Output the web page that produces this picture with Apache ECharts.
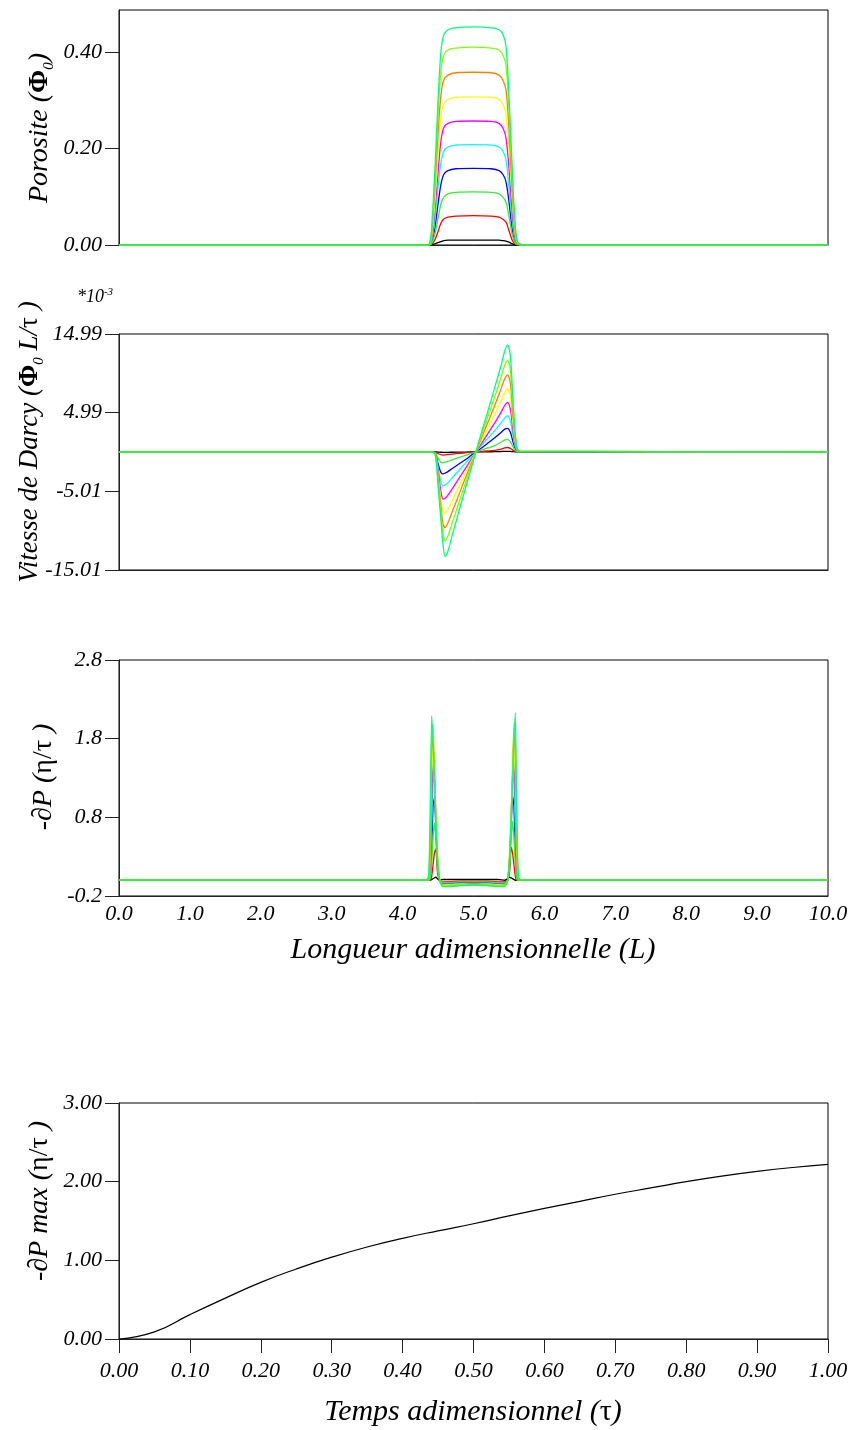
<!DOCTYPE html>
<html><head><meta charset="utf-8">
<script src="https://cdn.jsdelivr.net/npm/echarts@6/dist/echarts.min.js"></script>
<style>html,body{margin:0;padding:0;background:#fff}#c{width:853px;height:1430px}</style>
</head><body><div id="c"></div><script>
// ---------- DATA ----------
// curve colours (successive times), drawing order
const curveColors = ['#000000','#ff0000','#0000ff','#00ffff','#ff00ff','#ffff00','#ff8000','#80ff00','#00ff80','#33ee33'];
const curveNames  = ['black','red','blue','cyan','magenta','yellow','orange','yellowgreen','springgreen','green'];

// Panel 1 : porosity vs length
const xPoro = [0, 4.30, 4.38, 4.42, 4.46, 4.50, 4.54, 4.58, 4.64, 4.75, 5.00, 5.25, 5.36, 5.42, 5.46, 5.50, 5.54, 5.58, 5.62, 5.70, 10];
const poroBlack  = [0,0,0,0.001,0.003,0.005,0.007,0.009,0.010,0.010,0.010,0.010,0.010,0.009,0.008,0.006,0.003,0.001,0,0,0];
const poroRed    = [0,0,0,0.003,0.012,0.028,0.045,0.054,0.058,0.060,0.061,0.060,0.058,0.053,0.047,0.030,0.012,0.003,0,0,0];
const poroGreen  = [0,0,0,0.006,0.025,0.055,0.085,0.099,0.106,0.109,0.110,0.109,0.106,0.098,0.088,0.060,0.025,0.006,0.001,0,0];
const poroBlue   = [0,0,0,0.010,0.040,0.085,0.125,0.146,0.154,0.158,0.159,0.158,0.154,0.145,0.130,0.090,0.040,0.010,0.001,0,0];
const poroCyan   = [0,0,0,0.015,0.060,0.120,0.170,0.194,0.203,0.207,0.208,0.207,0.203,0.193,0.175,0.120,0.060,0.015,0.002,0,0];
const poroMag    = [0,0,0.001,0.020,0.080,0.150,0.215,0.243,0.252,0.256,0.257,0.256,0.252,0.241,0.220,0.160,0.080,0.020,0.003,0,0];
const poroYellow = [0,0,0.001,0.030,0.100,0.190,0.265,0.292,0.302,0.306,0.307,0.306,0.302,0.290,0.270,0.200,0.110,0.030,0.004,0,0];
const poroOrange = [0,0,0.002,0.040,0.130,0.230,0.310,0.342,0.352,0.357,0.358,0.357,0.352,0.340,0.320,0.240,0.130,0.040,0.005,0,0];
const poroYG     = [0,0,0.002,0.050,0.150,0.270,0.360,0.393,0.404,0.408,0.410,0.408,0.404,0.392,0.370,0.280,0.160,0.050,0.006,0,0];
const poroSG     = [0,0,0.003,0.060,0.170,0.300,0.400,0.435,0.446,0.450,0.452,0.450,0.446,0.435,0.410,0.310,0.180,0.060,0.008,0,0];

// Panel 2 : Darcy velocity (x 10^-3)
const xDarcy = [0, 4.40, 4.46, 4.50, 4.54, 4.57, 4.60, 4.64, 4.70, 4.80, 4.90, 5.00, 5.10, 5.20, 5.30, 5.38, 5.44, 5.48, 5.52, 5.56, 5.60, 5.65, 10];
const darcyBlack  = [0,0,0,-0.02,-0.04,-0.05,-0.05,-0.05,-0.04,-0.03,-0.02,0,0.01,0.02,0.03,0.05,0.07,0.08,0.06,0.03,0.01,0,0];
const darcyRed    = [0,0,0,-0.2,-0.35,-0.4,-0.38,-0.33,-0.27,-0.18,-0.1,-0.02,0.05,0.12,0.2,0.33,0.5,0.56,0.45,0.2,0.03,0,0];
const darcyGreen  = [0,0,-0.1,-0.8,-1.3,-1.35,-1.3,-1.2,-1.0,-0.7,-0.4,-0.1,0.2,0.5,0.8,1.2,1.5,1.6,1.3,0.6,0.1,0,0];
const darcyBlue   = [0,0,-0.1,-1.5,-2.6,-2.8,-2.7,-2.5,-2.1,-1.5,-0.9,-0.2,0.4,1.1,1.8,2.4,2.9,3.0,2.5,1.2,0.2,0,0];
const darcyCyan   = [0,0,-0.2,-2.0,-3.8,-4.3,-4.2,-3.9,-3.3,-2.3,-1.3,-0.4,0.7,1.7,2.7,3.6,4.3,4.6,3.9,1.9,0.4,0,0];
const darcyMag    = [0,0,-0.2,-2.5,-5.0,-6.0,-5.9,-5.5,-4.7,-3.3,-1.9,-0.5,0.9,2.3,3.7,4.9,5.9,6.3,5.4,2.6,0.5,0,0];
const darcyYellow = [0,0,-0.3,-3.0,-6.1,-7.6,-7.8,-7.3,-6.2,-4.3,-2.5,-0.6,1.2,3.0,4.8,6.3,7.5,8.0,7.0,3.4,0.7,0.1,0];
const darcyOrange = [0,0,-0.3,-3.4,-6.9,-9.1,-9.6,-9.0,-7.6,-5.3,-3.0,-0.8,1.5,3.7,5.9,7.8,9.3,9.8,8.7,4.3,0.9,0.1,0];
const darcyYG     = [0,0,-0.3,-3.8,-7.7,-10.4,-11.3,-10.7,-9.0,-6.3,-3.6,-0.9,1.8,4.4,7.0,9.2,11.0,11.6,10.4,5.2,1.1,0.1,0];
const darcySG     = [0,0,-0.3,-4.3,-8.6,-11.8,-13.3,-12.6,-10.6,-7.4,-4.2,-1.1,2.1,5.1,8.2,10.7,12.8,13.6,12.2,6.2,1.4,0.1,0];

// Panel 3 : -dP vs length
const xPress = [0, 4.34, 4.37, 4.39, 4.41, 4.43, 4.45, 4.47, 4.49, 4.52, 4.56, 4.65, 4.80, 5.00, 5.20, 5.35, 5.44, 5.48, 5.51, 5.53, 5.55, 5.57, 5.59, 5.61, 5.63, 5.66, 10];
const pressBlack  = [0,0,0,0,0.01,0.02,0.03,0.04,0.02,0.0,0.01,0.01,0.01,0.01,0.01,0.01,0.0,0.02,0.04,0.03,0.02,0.01,0,0,0,0,0];
const pressRed    = [0,0,0,0,0.05,0.2,0.35,0.40,0.12,0.0,-0.02,-0.02,-0.01,-0.01,-0.01,-0.02,-0.02,0,0.12,0.42,0.35,0.2,0.05,0,0,0,0];
const pressGreen  = [0,0,0,0.02,0.2,0.55,0.73,0.5,0.18,0.01,-0.03,-0.03,-0.02,-0.02,-0.02,-0.03,-0.03,0,0.18,0.5,0.75,0.55,0.2,0.02,0,0,0];
const pressBlue   = [0,0,0,0.05,0.4,0.95,1.05,0.65,0.22,0.01,-0.04,-0.04,-0.03,-0.03,-0.03,-0.04,-0.04,0,0.22,0.65,1.08,0.95,0.4,0.05,0,0,0];
const pressCyan   = [0,0,0,0.1,0.7,1.25,1.3,0.7,0.25,0.02,-0.05,-0.05,-0.04,-0.04,-0.04,-0.05,-0.05,0,0.25,0.7,1.32,1.25,0.7,0.1,0,0,0];
const pressMag    = [0,0,0.01,0.2,1.0,1.5,1.25,0.7,0.28,0.02,-0.05,-0.05,-0.05,-0.04,-0.05,-0.05,-0.05,0,0.28,0.7,1.25,1.52,1.0,0.2,0.01,0,0];
const pressYellow = [0,0,0.02,0.35,1.35,1.68,1.3,0.75,0.3,0.02,-0.06,-0.06,-0.05,-0.05,-0.05,-0.06,-0.06,-0.01,0.3,0.75,1.3,1.7,1.35,0.35,0.02,0,0];
const pressOrange = [0,0,0.03,0.5,1.6,1.85,1.35,0.8,0.33,0.02,-0.06,-0.07,-0.06,-0.05,-0.06,-0.07,-0.06,-0.01,0.33,0.8,1.35,1.87,1.6,0.5,0.03,0,0];
const pressYG     = [0,0,0.05,0.7,1.9,1.98,1.4,0.85,0.35,0.02,-0.07,-0.07,-0.06,-0.06,-0.06,-0.07,-0.07,-0.01,0.35,0.85,1.4,2.0,1.9,0.7,0.05,0,0];
const pressSG     = [0,0,0.1,0.9,2.09,1.75,1.25,0.75,0.3,0.0,-0.08,-0.08,-0.07,-0.06,-0.07,-0.08,-0.08,-0.02,0.3,0.75,1.25,1.75,2.13,0.9,0.1,0,0];

// Panel 4 : max -dP vs time
const timeVals  = [0, 0.05, 0.10, 0.15, 0.20, 0.25, 0.30, 0.35, 0.40, 0.45, 0.50, 0.55, 0.60, 0.65, 0.70, 0.75, 0.80, 0.85, 0.90, 0.95, 1.00];
const dpMaxVals = [0, 0.09, 0.31, 0.52, 0.72, 0.89, 1.04, 1.17, 1.28, 1.375, 1.465, 1.565, 1.66, 1.75, 1.84, 1.92, 2.00, 2.07, 2.13, 2.18, 2.22];

// tick labels
const darcyTickLabels = ['-15.01', '-5.01', '4.99', '14.99'];
const pressTickLabels = ['-0.2', '0.8', '1.8', '2.8'];

const poroSets  = [poroBlack, poroRed, poroBlue, poroCyan, poroMag, poroYellow, poroOrange, poroYG, poroSG, poroGreen];
const darcySets = [darcyBlack, darcyRed, darcyBlue, darcyCyan, darcyMag, darcyYellow, darcyOrange, darcyYG, darcySG, darcyGreen];
const pressSets = [pressBlack, pressRed, pressBlue, pressCyan, pressMag, pressYellow, pressOrange, pressYG, pressSG, pressGreen];

// ---------- CHART ----------
const FONT = 'Liberation Serif, Times New Roman, serif';
const lab = {fontFamily: FONT, fontStyle: 'italic', fontSize: 22, color: '#000'};
const axisLineStyle = {lineStyle: {color: '#222', width: 1}};
const tickStyle = {show: true, length: 14, lineStyle: {color: '#222', width: 1}};
const L = 119, R = 25;
const grids = [
  {left: L, right: R, top: 10, height: 235},
  {left: L, right: R, top: 334, height: 236},
  {left: L, right: R, top: 660, height: 236},
  {left: L, right: R, top: 1103, height: 236}
].map(g => Object.assign({show: true, borderColor: '#000', borderWidth: 1, backgroundColor: 'transparent'}, g));

const xAxes = [
  {gridIndex: 0, type: 'value', min: 0, max: 10, interval: 1, axisLine: axisLineStyle, axisTick: {show: false}, axisLabel: {show: false}, splitLine: {show: false}},
  {gridIndex: 1, type: 'value', min: 0, max: 10, interval: 1, axisLine: {show: true, onZero: false, lineStyle: {color: '#222'}}, axisTick: {show: false}, axisLabel: {show: false}, splitLine: {show: false}},
  {gridIndex: 2, type: 'value', min: 0, max: 10, interval: 1, axisLine: {show: true, onZero: false, lineStyle: {color: '#222'}}, axisTick: {show: false},
    axisLabel: Object.assign({margin: 7, formatter: v => v.toFixed(1)}, lab), splitLine: {show: false}},
  {gridIndex: 3, type: 'value', min: 0, max: 1, interval: 0.1, axisLine: axisLineStyle, axisTick: tickStyle,
    axisLabel: Object.assign({margin: 21, formatter: v => v.toFixed(2)}, lab), splitLine: {show: false}}
];

const yAxes = [
  // 0 porosity
  {gridIndex: 0, type: 'value', position: 'left', min: 0, max: 0.487, interval: 0.2, axisLine: {show: true, lineStyle: {color: '#222'}}, axisTick: tickStyle,
    axisLabel: Object.assign({margin: 17, showMaxLabel: false, formatter: v => (Math.abs(v / 0.2 - Math.round(v / 0.2)) < 1e-6 ? v.toFixed(2) : '')}, lab), splitLine: {show: false}},
  // 1 darcy data axis
  {gridIndex: 1, type: 'value', position: 'left', min: -15.01, max: 14.99, axisLine: {show: true, onZero: false, lineStyle: {color: '#222'}}, axisTick: {show: false}, axisLabel: {show: false}, splitLine: {show: false}},
  // 2 darcy tick axis
  {gridIndex: 1, type: 'value', position: 'left', min: 0, max: 3, interval: 1, axisLine: {show: false}, axisTick: tickStyle,
    axisLabel: Object.assign({margin: 17, formatter: v => darcyTickLabels[Math.round(v)]}, lab), splitLine: {show: false}},
  // 3 pressure data axis
  {gridIndex: 2, type: 'value', position: 'left', min: -0.2, max: 2.8, axisLine: {show: true, onZero: false, lineStyle: {color: '#222'}}, axisTick: {show: false}, axisLabel: {show: false}, splitLine: {show: false}},
  // 4 pressure tick axis
  {gridIndex: 2, type: 'value', position: 'left', min: 0, max: 3, interval: 1, axisLine: {show: false}, axisTick: tickStyle,
    axisLabel: Object.assign({margin: 17, formatter: v => pressTickLabels[Math.round(v)]}, lab), splitLine: {show: false}},
  // 5 dp max
  {gridIndex: 3, type: 'value', position: 'left', min: 0, max: 3, interval: 1, axisLine: {show: true, lineStyle: {color: '#222'}}, axisTick: tickStyle,
    axisLabel: Object.assign({margin: 17, formatter: v => v.toFixed(2)}, lab), splitLine: {show: false}}
];

const series = [];
function addSet(xs, sets, xi, yi, smooth) {
  sets.forEach((ys, k) => {
    series.push({
      type: 'line', name: curveNames[k] + '_' + yi, xAxisIndex: xi, yAxisIndex: yi,
      data: xs.map((x, i) => [x, ys[i]]), showSymbol: false, smooth: smooth,
      lineStyle: {color: curveColors[k], width: 1.3}, itemStyle: {color: curveColors[k]}
    });
  });
}
addSet(xPoro, poroSets, 0, 0, 0.3);
addSet(xDarcy, darcySets, 1, 1, 0.3);
addSet(xPress, pressSets, 2, 3, 0.15);
series.push({type: 'line', name: 'dpmax', xAxisIndex: 3, yAxisIndex: 5, data: timeVals.map((t, i) => [t, dpMaxVals[i]]),
  showSymbol: false, smooth: 0.5, lineStyle: {color: '#000', width: 1.2}});

const T = {fontFamily: FONT, fontStyle: 'italic', fontSize: 28, lineHeight: 34, fill: '#000'};
const G = {fontFamily: FONT, fontStyle: 'normal', fontSize: 28, lineHeight: 34};
const PHI = {fontFamily: FONT, fontStyle: 'normal', fontWeight: 'bold', fontSize: 28, lineHeight: 34};
const SUB = {fontFamily: FONT, fontStyle: 'italic', fontSize: 15, lineHeight: 15, verticalAlign: 'bottom'};
function rtext(x, y, text, rich, rot) {
  return {type: 'text', x: x, y: y, rotation: rot || 0,
    style: {text: text, rich: rich, align: 'center', verticalAlign: 'middle', fill: '#000', font: 'italic 28px ' + FONT}};
}
const richMain = {t: T, g: G, p: PHI, s: SUB};
const richV = {t: Object.assign({}, T, {fontSize: 27}), g: Object.assign({}, G, {fontSize: 27}), p: Object.assign({}, PHI, {fontSize: 27}), s: SUB};
const graphics = [
  rtext(40, 128, '{t|Porosite (}{p|Φ}{s|0}{t|)}', richMain, Math.PI / 2),
  rtext(30, 442, '{t|Vitesse de Darcy (}{p|Φ}{s|0}{t| L/}{g|τ}{t| )}', richV, Math.PI / 2),
  rtext(44, 777, '{t|-∂P (}{g|η/τ}{t| )}', richMain, Math.PI / 2),
  rtext(40, 1201, '{t|-∂P max (}{g|η/τ}{t| )}', richMain, Math.PI / 2),
  rtext(473, 950, '{t|Longueur adimensionnelle (L)}', {t: Object.assign({}, T, {fontSize: 30})}),
  rtext(473, 1412, '{t|Temps adimensionnel (}{g|τ}{t|)}', {t: Object.assign({}, T, {fontSize: 30}), g: Object.assign({}, G, {fontSize: 30})}),
  rtext(95, 297, '{a|*10}{b|-3}', {a: {fontFamily: FONT, fontStyle: 'italic', fontSize: 18, lineHeight: 20}, b: {fontFamily: FONT, fontStyle: 'italic', fontSize: 11, lineHeight: 11, verticalAlign: 'top'}})
];

const chart = echarts.init(document.getElementById('c'), null, {renderer: 'canvas'});
chart.setOption({
  animation: false,
  backgroundColor: '#fff',
  grid: grids, xAxis: xAxes, yAxis: yAxes, series: series,
  graphic: graphics
});
</script></body></html>
